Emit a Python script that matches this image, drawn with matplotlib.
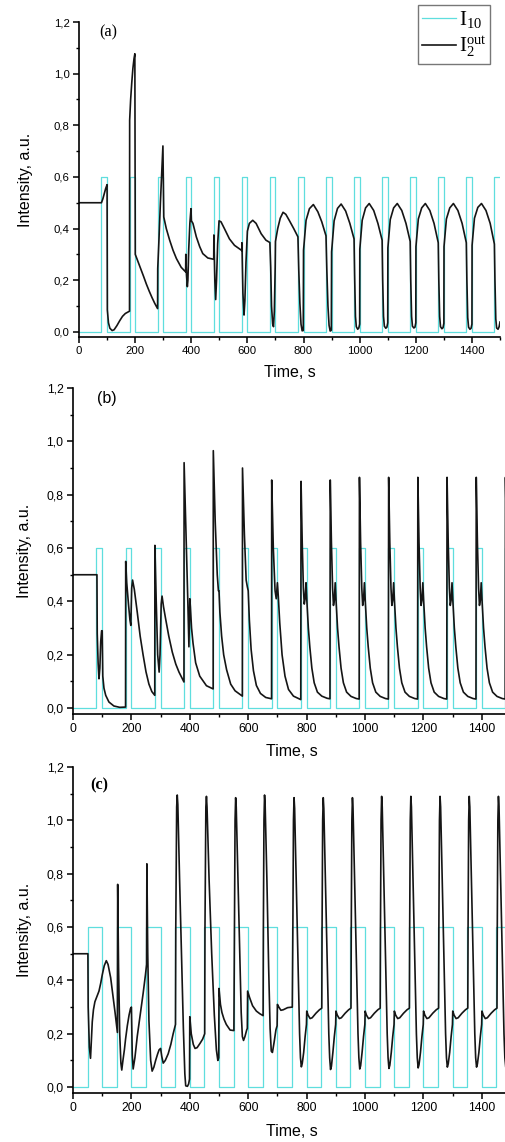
import matplotlib
matplotlib.use("Agg")
import matplotlib.pyplot as plt
from matplotlib.ticker import MultipleLocator, FixedLocator, FuncFormatter

# ---------------- data ----------------
# input pulse train I10 (on / off times, s) and its two levels
pulse_on_ab = [80, 180, 280, 380, 480, 580, 680, 780, 880, 980, 1080, 1180, 1280, 1380, 1480]
pulse_off_ab = [100, 200, 300, 400, 500, 600, 700, 800, 900, 1000, 1100, 1200, 1300, 1400, 1500]
pulse_on_c = [50, 150, 250, 350, 450, 550, 650, 750, 850, 950, 1050, 1150, 1250, 1350, 1450]
pulse_off_c = [100, 200, 300, 400, 500, 600, 700, 800, 900, 1000, 1100, 1200, 1300, 1400, 1500]
I10_low = 0.0
I10_high = 0.6

# output intensity I2out (time s, intensity a.u.)
out_a = [
    (0, 0.50), (80, 0.50), (85, 0.515), (90, 0.535), (95, 0.555), (100, 0.57),
    (101, 0.085), (105, 0.035), (110, 0.014), (118, 0.005), (125, 0.008), (135, 0.024),
    (145, 0.043), (155, 0.06), (165, 0.071), (175, 0.077), (180, 0.08),
    (180.5, 0.82), (184, 0.90), (188, 0.965), (192, 1.02), (196, 1.058), (199, 1.077),
    (200.5, 0.30), (210, 0.273), (220, 0.245), (230, 0.215), (240, 0.185), (250, 0.158),
    (260, 0.133), (270, 0.11), (280, 0.09),
    (280.5, 0.245), (285, 0.36), (290, 0.50), (295, 0.62), (299, 0.72),
    (302, 0.445), (311, 0.40), (323, 0.355), (335, 0.316), (347, 0.284), (364, 0.25), (380, 0.232),
    (380.5, 0.30), (383, 0.22), (386, 0.175), (388, 0.20), (391, 0.32), (395, 0.42), (399, 0.477),
    (400.5, 0.43), (406, 0.42), (418, 0.368), (430, 0.33), (441, 0.303), (459, 0.286), (480, 0.281),
    (480.5, 0.375), (484, 0.20), (487, 0.125), (490, 0.20), (494, 0.34), (499, 0.43),
    (506, 0.426), (518, 0.40), (536, 0.36), (554, 0.335), (580, 0.315),
    (580.5, 0.345), (584, 0.15), (588, 0.065), (591, 0.12), (595, 0.27), (600, 0.39),
    (607, 0.42), (619, 0.432), (631, 0.42), (649, 0.38), (666, 0.355), (680, 0.346),
    (683, 0.25), (686, 0.10), (690, 0.03), (693, 0.02), (696, 0.08), (699, 0.25), (700, 0.35),
    (708, 0.40), (717, 0.44), (727, 0.463), (737, 0.455), (750, 0.43), (765, 0.40), (780, 0.368),
    (783, 0.24), (787, 0.11), (791, 0.03), (795, 0.004), (799, 0.005),
    (800, 0.316), (809, 0.432), (821, 0.477), (835, 0.493), (851, 0.465), (865, 0.426), (880, 0.372),
    (883, 0.24), (887, 0.10), (891, 0.025), (895, 0.003), (899, 0.006),
    (900, 0.31), (909, 0.43), (921, 0.478), (934, 0.495), (950, 0.468), (965, 0.42), (980, 0.36),
    (982, 0.22), (985, 0.06), (988, 0.02), (993, 0.01), (997, 0.015), (1000, 0.03),
    (1000.5, 0.32), (1009, 0.432), (1021, 0.48), (1034, 0.497), (1050, 0.47), (1065, 0.42), (1080, 0.355),
    (1082, 0.20), (1085, 0.06), (1088, 0.022), (1093, 0.014), (1097, 0.018), (1100, 0.035),
    (1100.5, 0.325), (1109, 0.435), (1121, 0.48), (1134, 0.497), (1150, 0.47), (1165, 0.42), (1180, 0.35),
    (1182, 0.20), (1185, 0.06), (1188, 0.022), (1193, 0.015), (1197, 0.018), (1200, 0.035),
    (1200.5, 0.33), (1209, 0.437), (1221, 0.48), (1234, 0.497), (1250, 0.47), (1265, 0.42), (1280, 0.345),
    (1282, 0.20), (1285, 0.06), (1288, 0.02), (1293, 0.012), (1297, 0.016), (1300, 0.033),
    (1300.5, 0.33), (1309, 0.437), (1321, 0.48), (1334, 0.497), (1350, 0.47), (1365, 0.42), (1380, 0.345),
    (1382, 0.20), (1385, 0.055), (1388, 0.018), (1393, 0.01), (1397, 0.014), (1400, 0.03),
    (1400.5, 0.335), (1409, 0.44), (1421, 0.482), (1434, 0.497), (1450, 0.47), (1465, 0.42), (1480, 0.34),
    (1482, 0.20), (1485, 0.05), (1488, 0.015), (1493, 0.01), (1497, 0.02), (1500, 0.038),
]

out_b = [
    (0, 0.50), (82, 0.50), (83, 0.28), (86, 0.17), (89, 0.11), (92, 0.15), (95, 0.25), (98, 0.29), (100, 0.29),
    (102, 0.12), (106, 0.075), (112, 0.048), (123, 0.023), (140, 0.008), (160, 0.003), (180, 0.004),
    (180.5, 0.55), (184, 0.47), (190, 0.39), (195, 0.33), (198, 0.31), (201, 0.45), (204, 0.48),
    (210, 0.445), (220, 0.36), (230, 0.27), (240, 0.20), (250, 0.136), (260, 0.09), (270, 0.062), (280, 0.048),
    (280.5, 0.61), (285, 0.40), (290, 0.20), (295, 0.135), (298, 0.20), (302, 0.39), (305, 0.42),
    (310, 0.38), (317, 0.336), (328, 0.27), (340, 0.21), (352, 0.165), (363, 0.135), (372, 0.115), (380, 0.098),
    (380.5, 0.92), (388, 0.62), (393, 0.41), (397, 0.23), (400, 0.41), (402, 0.38), (406, 0.30),
    (411, 0.244), (420, 0.17), (434, 0.12), (457, 0.084), (480, 0.072),
    (480.5, 0.965), (487, 0.70), (494, 0.50), (498, 0.44), (500, 0.44), (503, 0.36), (509, 0.27),
    (516, 0.20), (526, 0.144), (540, 0.09), (555, 0.065), (577, 0.047), (580, 0.045),
    (580.5, 0.90), (587, 0.65), (593, 0.48), (597, 0.455), (600, 0.44), (604, 0.33), (610, 0.22),
    (618, 0.14), (628, 0.085), (642, 0.055), (660, 0.04), (680, 0.035),
    (680.5, 0.855), (686, 0.60), (692, 0.44), (696, 0.41), (700, 0.47), (703, 0.42), (708, 0.32),
    (716, 0.20), (726, 0.12), (738, 0.07), (755, 0.045), (780, 0.032),
    (781, 0.85), (785, 0.62), (789, 0.45), (792, 0.39), (795, 0.41), (798, 0.47), (801, 0.40),
    (806, 0.30), (811, 0.23), (818, 0.15), (826, 0.095), (837, 0.06), (852, 0.045), (870, 0.037), (880, 0.035),
    (881, 0.855), (885, 0.62), (889, 0.45), (892, 0.385), (895, 0.405), (898, 0.47), (901, 0.40),
    (906, 0.30), (911, 0.23), (918, 0.15), (926, 0.095), (937, 0.06), (952, 0.044), (970, 0.036), (980, 0.034),
    (981, 0.865), (985, 0.62), (989, 0.45), (992, 0.385), (995, 0.405), (998, 0.47), (1001, 0.40),
    (1006, 0.30), (1011, 0.23), (1018, 0.15), (1026, 0.095), (1037, 0.06), (1052, 0.044), (1070, 0.036), (1080, 0.034),
    (1081, 0.865), (1085, 0.62), (1089, 0.45), (1092, 0.385), (1095, 0.405), (1098, 0.47), (1101, 0.40),
    (1106, 0.30), (1111, 0.23), (1118, 0.15), (1126, 0.095), (1137, 0.06), (1152, 0.044), (1170, 0.036), (1180, 0.034),
    (1181, 0.865), (1185, 0.62), (1189, 0.45), (1192, 0.385), (1195, 0.405), (1198, 0.47), (1201, 0.40),
    (1206, 0.30), (1211, 0.23), (1218, 0.15), (1226, 0.095), (1237, 0.06), (1252, 0.044), (1270, 0.036), (1280, 0.034),
    (1281, 0.865), (1285, 0.62), (1289, 0.45), (1292, 0.385), (1295, 0.405), (1298, 0.47), (1301, 0.40),
    (1306, 0.30), (1311, 0.23), (1318, 0.15), (1326, 0.095), (1337, 0.06), (1352, 0.044), (1370, 0.036), (1380, 0.034),
    (1381, 0.865), (1385, 0.62), (1389, 0.45), (1392, 0.385), (1395, 0.405), (1398, 0.47), (1401, 0.40),
    (1406, 0.30), (1411, 0.23), (1418, 0.15), (1426, 0.095), (1437, 0.06), (1452, 0.044), (1470, 0.036), (1480, 0.034),
    (1481, 0.865), (1485, 0.62), (1489, 0.45), (1492, 0.385), (1495, 0.405), (1498, 0.47), (1500, 0.42),
]

out_c = [
    (0, 0.50), (51, 0.50), (52, 0.30), (56, 0.15), (60, 0.108), (63, 0.18), (66, 0.245), (70, 0.29),
    (75, 0.32), (82, 0.34), (89, 0.36), (95, 0.39), (100, 0.42), (107, 0.455), (114, 0.474), (120, 0.46),
    (129, 0.41), (137, 0.34), (144, 0.28), (152, 0.205),
    (153, 0.76), (156, 0.45), (160, 0.20), (164, 0.09), (167, 0.064), (171, 0.10), (176, 0.14), (180, 0.18),
    (186, 0.23), (192, 0.27), (197, 0.295), (200, 0.30),
    (203, 0.12), (206, 0.068), (212, 0.11), (220, 0.19), (230, 0.27), (240, 0.35), (248, 0.42), (252, 0.46),
    (253, 0.837), (256, 0.50), (260, 0.25), (266, 0.10), (271, 0.06), (277, 0.075), (283, 0.10), (290, 0.125),
    (295, 0.14), (300, 0.145), (304, 0.115), (309, 0.09), (316, 0.10), (326, 0.125), (335, 0.16), (343, 0.20), (351, 0.235),
    (352, 0.60), (355, 1.05), (357, 1.095), (359, 1.06), (365, 0.78), (372, 0.48), (378, 0.22), (383, 0.05),
    (386, 0.005), (392, 0.003), (396, 0.012), (399, 0.03), (400, 0.264), (405, 0.20), (412, 0.16), (418, 0.145),
    (425, 0.148), (435, 0.164), (444, 0.18), (451, 0.20),
    (452, 0.60), (455, 1.05), (457, 1.09), (459, 1.05), (466, 0.78), (475, 0.50), (484, 0.27), (491, 0.14),
    (496, 0.10), (499, 0.11), (500, 0.37), (505, 0.31), (510, 0.28), (517, 0.255), (525, 0.235), (538, 0.214), (551, 0.212),
    (553, 0.60), (555, 1.00), (557, 1.085), (559, 1.05), (565, 0.78), (571, 0.50), (576, 0.28), (580, 0.19),
    (584, 0.175), (589, 0.19), (595, 0.215), (597, 0.22), (598, 0.36), (605, 0.335), (615, 0.305), (628, 0.285),
    (640, 0.275), (651, 0.268),
    (652, 0.60), (654, 1.00), (656, 1.095), (658, 1.06), (664, 0.78), (670, 0.45), (675, 0.22), (679, 0.135),
    (683, 0.13), (689, 0.17), (695, 0.215), (699, 0.23), (700, 0.31), (705, 0.30), (712, 0.288), (720, 0.29),
    (735, 0.298), (751, 0.30),
    (753, 0.60), (755, 1.00), (757, 1.085), (759, 1.045), (765, 0.75), (771, 0.45), (776, 0.20), (779, 0.11),
    (782, 0.076), (785, 0.088), (790, 0.13), (795, 0.19), (799.5, 0.235), (800.5, 0.285), (805, 0.27), (812, 0.257),
    (819, 0.26), (832, 0.277), (844, 0.29), (852, 0.296),
    (853, 0.60), (855, 1.00), (857, 1.085), (859, 1.045), (865, 0.75), (871, 0.45), (876, 0.20), (879, 0.11),
    (882, 0.066), (885, 0.078), (890, 0.13), (895, 0.19), (899.5, 0.235), (900.5, 0.285), (905, 0.27), (912, 0.257),
    (919, 0.26), (932, 0.277), (944, 0.29), (952, 0.296),
    (953, 0.60), (955, 1.00), (957, 1.085), (959, 1.045), (965, 0.75), (971, 0.45), (976, 0.20), (979, 0.11),
    (982, 0.068), (985, 0.08), (990, 0.13), (995, 0.19), (999.5, 0.235), (1000.5, 0.285), (1005, 0.27), (1012, 0.257),
    (1019, 0.26), (1032, 0.277), (1044, 0.29), (1052, 0.296),
    (1053, 0.60), (1055, 1.00), (1057, 1.09), (1059, 1.05), (1065, 0.75), (1071, 0.45), (1076, 0.20), (1079, 0.11),
    (1082, 0.07), (1085, 0.082), (1090, 0.13), (1095, 0.19), (1099.5, 0.235), (1100.5, 0.285), (1105, 0.27), (1112, 0.257),
    (1119, 0.26), (1132, 0.277), (1144, 0.29), (1152, 0.296),
    (1153, 0.60), (1155, 1.00), (1157, 1.09), (1159, 1.05), (1165, 0.75), (1171, 0.45), (1176, 0.20), (1179, 0.11),
    (1182, 0.072), (1185, 0.084), (1190, 0.13), (1195, 0.19), (1199.5, 0.235), (1200.5, 0.285), (1205, 0.27), (1212, 0.257),
    (1219, 0.26), (1232, 0.277), (1244, 0.29), (1252, 0.296),
    (1253, 0.60), (1255, 1.00), (1257, 1.09), (1259, 1.05), (1265, 0.75), (1271, 0.45), (1276, 0.20), (1279, 0.11),
    (1282, 0.075), (1285, 0.087), (1290, 0.13), (1295, 0.19), (1299.5, 0.235), (1300.5, 0.285), (1305, 0.27), (1312, 0.257),
    (1319, 0.26), (1332, 0.277), (1344, 0.29), (1352, 0.296),
    (1353, 0.60), (1355, 1.00), (1357, 1.09), (1359, 1.05), (1365, 0.75), (1371, 0.45), (1376, 0.20), (1379, 0.11),
    (1382, 0.075), (1385, 0.087), (1390, 0.13), (1395, 0.19), (1399.5, 0.235), (1400.5, 0.285), (1405, 0.27), (1412, 0.257),
    (1419, 0.26), (1432, 0.277), (1444, 0.29), (1452, 0.296),
    (1453, 0.60), (1455, 1.00), (1457, 1.09), (1459, 1.05), (1465, 0.75), (1471, 0.45), (1476, 0.20), (1479, 0.11),
    (1482, 0.075), (1485, 0.087), (1490, 0.13), (1495, 0.19), (1500, 0.235),
]

x_major = [0, 200, 400, 600, 800, 1000, 1200, 1400]
y_major = [0.0, 0.2, 0.4, 0.6, 0.8, 1.0, 1.2]
panel_tags = ["(a)", "(b)", "(c)"]
xlabel_text = "Time, s"
ylabel_text = "Intensity, a.u."
legend_labels = [r"$\mathrm{I}_{10}$", r"$\mathrm{I}_{2}^{\mathrm{out}}$"]

# ---------------- style ----------------
plt.rcParams["font.family"] = ["Liberation Sans", "DejaVu Sans"]
plt.rcParams["mathtext.fontset"] = "custom"
plt.rcParams["mathtext.rm"] = "Liberation Serif"
plt.rcParams["mathtext.it"] = "Liberation Serif:italic"
plt.rcParams["mathtext.bf"] = "Liberation Serif:bold"

CYAN = "#5fdede"
BLACK = "#151515"
W, H = 505, 1142
fig = plt.figure(figsize=(W / 100, H / 100), dpi=100)


def square_wave(on, off, xmax=1500):
    t, v = [0], [I10_low]
    for a, b in zip(on, off):
        if b >= xmax:
            t += [a, a, xmax]
            v += [I10_low, I10_high, I10_high]
        else:
            t += [a, a, b, b]
            v += [I10_low, I10_high, I10_high, I10_low]
    if t[-1] < xmax:
        t.append(xmax)
        v.append(I10_low)
    return t, v


def comma_fmt(x, pos):
    return f"{x:.1f}".replace(".", ",")


# axes rectangles in pixels: (left, top, right, bottom)
boxes = [
    (79, 22, 500, 337),
    (73, 388, 511, 714),
    (73, 767, 511, 1093),
]
pulses = [(pulse_on_ab, pulse_off_ab), (pulse_on_ab, pulse_off_ab), (pulse_on_c, pulse_off_c)]
outs = [out_a, out_b, out_c]
ylo = [-0.02, -0.022, -0.022]
tick_fs = [8.2, 8.8, 8.8]
ylab_x = [-0.109, -0.094, -0.094]
xlab_y = [-0.089, -0.092, -0.096]

axes = []
for i in range(3):
    l, t, r, b = boxes[i]
    ax = fig.add_axes([l / W, 1 - b / H, (r - l) / W, (b - t) / H])
    axes.append(ax)
    ts, vs = square_wave(*pulses[i])
    ax.plot(ts, vs, color=CYAN, lw=0.9, label=legend_labels[0])
    to = [p[0] for p in outs[i]]
    vo = [p[1] for p in outs[i]]
    ax.plot(to, vo, color=BLACK, lw=1.2, label=legend_labels[1])
    ax.set_xlim(0, 1500)
    ax.set_ylim(ylo[i], 1.2)
    for s in ["top", "right"]:
        ax.spines[s].set_visible(False)
    for s in ["left", "bottom"]:
        ax.spines[s].set_linewidth(1.2)
    ax.xaxis.set_major_locator(FixedLocator(x_major))
    ax.xaxis.set_minor_locator(MultipleLocator(100))
    ax.yaxis.set_major_locator(FixedLocator(y_major))
    ax.yaxis.set_minor_locator(MultipleLocator(0.1))
    ax.yaxis.set_major_formatter(FuncFormatter(comma_fmt))
    ax.tick_params(which="major", direction="out", length=4.3, width=1.1,
                   labelsize=tick_fs[i], pad=2.5)
    ax.tick_params(which="minor", direction="out", length=2.5, width=1.0)
    ax.set_xlabel(xlabel_text, fontsize=11.5)
    ax.set_ylabel(ylabel_text, fontsize=11.5)
    ax.yaxis.set_label_coords(ylab_x[i], 0.5)
    ax.xaxis.set_label_coords(0.5, xlab_y[i])

# panel tags
fig.text(108 / W, 1 - 32 / H, panel_tags[0], family="Liberation Serif", fontsize=11.7,
         ha="center", va="center")
fig.text(107 / W, 1 - 399 / H, panel_tags[1], family="Liberation Sans", fontsize=11.5,
         ha="center", va="center")
fig.text(99 / W, 1 - 785 / H, panel_tags[2], family="Liberation Serif", fontsize=11.7,
         fontweight="bold", ha="center", va="center")

# legend
h, lab = axes[0].get_legend_handles_labels()
leg = fig.legend(h, lab, loc="upper left", bbox_to_anchor=(418 / W, 1 - 5 / H),
                 borderaxespad=0, fontsize=15, handlelength=1.6, handletextpad=0.15,
                 labelspacing=0.22, borderpad=0.2, fancybox=False, framealpha=1)
leg.get_frame().set_edgecolor("#777777")
leg.get_frame().set_linewidth(1.0)

fig.savefig("out.png", dpi=100)
